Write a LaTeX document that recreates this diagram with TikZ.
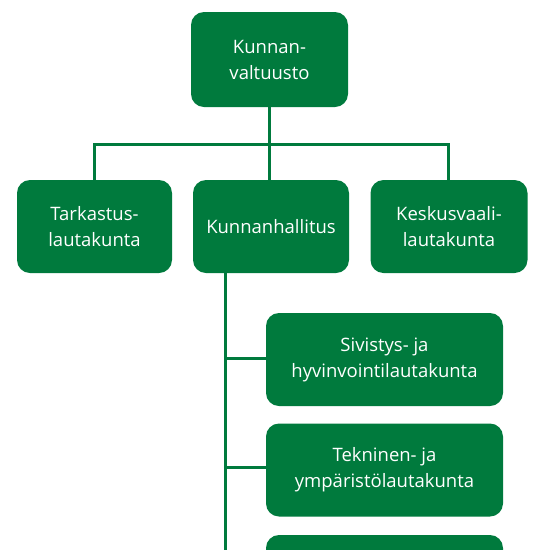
\documentclass[tikz,border=0pt]{standalone}
\usepackage{fontspec}
\setmainfont{Open Sans}
\definecolor{kgreen}{HTML}{007A3D}
\begin{document}
\begin{tikzpicture}[x=1pt,y=-1pt,
  box/.style={fill=kgreen, draw=none, rounded corners=13pt, text=white, align=center,
    font=\fontsize{18.5}{26}\selectfont, inner sep=0pt},
  conn/.style={draw=kgreen, line width=3pt}]
\useasboundingbox (0,0) rectangle (550,550);
\clip (0,0) rectangle (550,550);
\node[box, minimum width=157pt, minimum height=95pt] (kv) at (269.5,59.5) {Kunnan-\\valtuusto};
\node[box, minimum width=155pt, minimum height=93pt] (tl) at (94.5,226.5) {Tarkastus-\\lautakunta};
\node[box, minimum width=156pt, minimum height=93pt] (kh) at (271,226.5) {Kunnanhallitus};
\node[box, minimum width=157pt, minimum height=93pt] (kl) at (449,226.5) {Keskusvaali-\\lautakunta};
\node[box, minimum width=237pt, minimum height=93pt] (sh) at (384.5,359.5) {Sivistys- ja\\hyvinvointilautakunta};
\node[box, minimum width=237pt, minimum height=93pt] (ty) at (384.5,470) {Tekninen- ja\\ympäristölautakunta};
\node[box, minimum width=237pt, minimum height=93pt] (bb) at (384.5,581.5) {};
\coordinate (hj) at (269.5,144);
\coordinate (hl) at (94.5,144);
\coordinate (hr) at (448,144);
\coordinate (vtop) at (225,273);
\coordinate (vbot) at (225,560);
\coordinate (j1) at (225,358);
\coordinate (j2) at (225,467);
\draw[conn] (kv.south) -- (hj);
\draw[conn] (tl.north -| hl) -- (hl) -- (hr) -- (kl.north -| hr);
\draw[conn] (hj) -- (kh.north -| hj);
\draw[conn] (kh.south -| vtop) -- (vbot);
\draw[conn] (j1) -- (sh.west |- j1);
\draw[conn] (j2) -- (ty.west |- j2);
\end{tikzpicture}
\end{document}
